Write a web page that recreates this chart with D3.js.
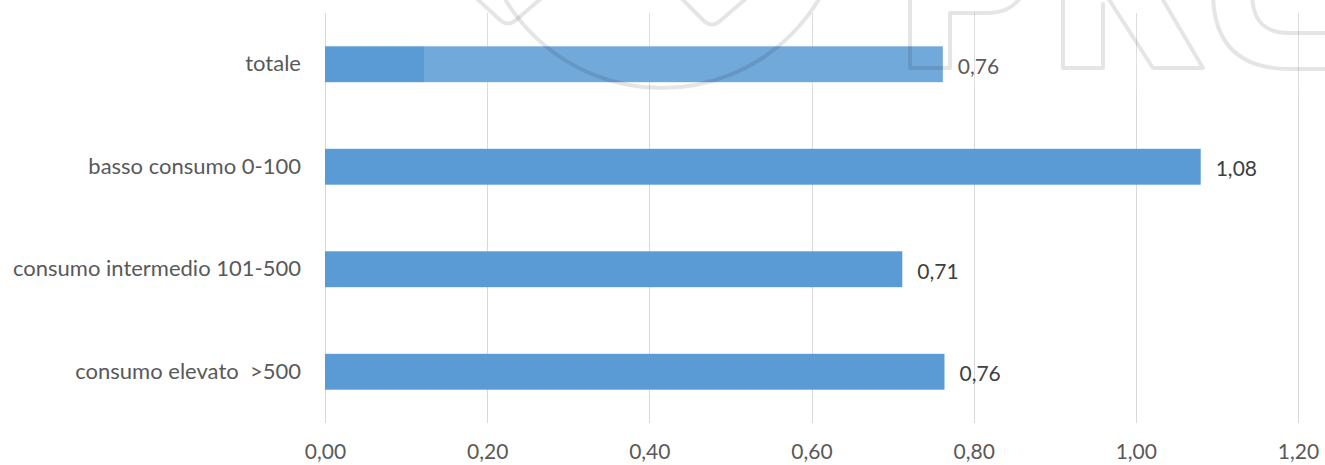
<!DOCTYPE html>
<html>
<head>
<meta charset="utf-8">
<script src="https://cdn.jsdelivr.net/npm/d3@7"></script>
<style>
  html, body { margin: 0; padding: 0; background: #ffffff; }
  svg { display: block; }
  text { font-family: Lato, "Noto Sans", sans-serif; white-space: pre; }
</style>
</head>
<body>
<svg id="chart" width="1325" height="465"></svg>
<script>
// Categories (top to bottom) and their values
const categories = [
  "totale",
  "basso consumo 0-100",
  "consumo intermedio 101-500",
  "consumo elevato  >500"
];
const values = [0.762, 1.08, 0.712, 0.764];

// Axis ticks
const tickValues = [0, 0.2, 0.4, 0.6, 0.8, 1.0, 1.2];
const tickLabels = ["0,00", "0,20", "0,40", "0,60", "0,80", "1,00", "1,20"];

const W = 1325, H = 465;
const plot = { left: 325, right: 1298, top: 13, bottom: 423 };

const svg = d3.select("#chart");

const x = d3.scaleLinear().domain([0, 1.2]).range([plot.left, plot.right]);
const y = d3.scaleBand()
  .domain(categories)
  .range([plot.top, plot.bottom])
  .paddingInner(0.65)
  .paddingOuter(0.325);

const fmt = v => d3.format(".2f")(v).replace(".", ",");

// vertical gridlines
svg.append("g")
  .selectAll("line")
  .data(tickValues)
  .join("line")
  .attr("x1", d => Math.round(x(d)) + 0.5)
  .attr("x2", d => Math.round(x(d)) + 0.5)
  .attr("y1", plot.top)
  .attr("y2", plot.bottom)
  .attr("stroke", "#d9d9d9")
  .attr("stroke-width", 1);

// bars
const data = categories.map((c, i) => ({ c, v: values[i] }));
svg.append("g")
  .selectAll("rect")
  .data(data)
  .join("rect")
  .attr("x", x(0))
  .attr("y", d => y(d.c))
  .attr("width", d => x(d.v) - x(0))
  .attr("height", y.bandwidth())
  .attr("fill", "#5b9bd5");

// value labels
svg.append("g")
  .selectAll("text")
  .data(data)
  .join("text")
  .attr("x", d => x(d.v) + 15)
  .attr("y", d => y(d.c) + y.bandwidth() / 2 + 2)
  .attr("dy", "0.35em")
  .attr("font-size", 21)
  .attr("fill", "#404040")
  .text(d => fmt(d.v));

// category axis
const yAxis = svg.append("g")
  .attr("transform", `translate(${plot.left},0)`)
  .call(d3.axisLeft(y).tickSize(0).tickPadding(24));
yAxis.select(".domain").remove();
yAxis.selectAll("text")
  .attr("font-size", 22)
  .attr("font-family", "Lato, 'Noto Sans', sans-serif")
  .attr("fill", "#595959");

// value axis
const xAxis = svg.append("g")
  .attr("transform", `translate(0,${plot.bottom})`)
  .call(d3.axisBottom(x).tickValues(tickValues)
    .tickFormat((d, i) => tickLabels[i]).tickSize(0).tickPadding(21));
xAxis.select(".domain").remove();
xAxis.selectAll("text")
  .attr("font-size", 21)
  .attr("font-family", "Lato, 'Noto Sans', sans-serif")
  .attr("fill", "#595959");

// faint logo overlay across the top of the chart
const logo = svg.append("g").attr("class", "logo");
logo.append("rect")
  .attr("x", 424).attr("y", 0)
  .attr("width", W - 424).attr("height", 90)
  .attr("fill", "#ffffff").attr("opacity", 0.14);

const stroke = g => g
  .attr("fill", "none")
  .attr("stroke", "#000000")
  .attr("stroke-opacity", 0.1)
  .attr("stroke-width", 4)
  .attr("stroke-linejoin", "round")
  .attr("stroke-linecap", "round");

const shapes = [
  "M474,-4 L500,20 Q508,27 516,20 L544,-4",
  "M679,-4 L704,21 Q712,28 720,21 L749,-4",
  "M910,-5 L910,68 L950,68 L950,13 L990,13 Q1012,12 1022,-5",
  "M1063,-5 L1063,68 L1103,68 L1103,4",
  "M1106,-5 L1153,68 L1203,68 L1160,-5",
  "M1213,-5 C1214,45 1240,69 1290,69 L1330,69",
  "M1252,-5 C1253,22 1265,33 1290,33 L1330,33"
];
logo.append("circle")
  .attr("cx", 662).attr("cy", -95).attr("r", 183)
  .call(stroke);
logo.selectAll("path.s")
  .data(shapes)
  .join("path")
  .attr("class", "s")
  .attr("d", d => d)
  .call(stroke);
</script>
</body>
</html>
